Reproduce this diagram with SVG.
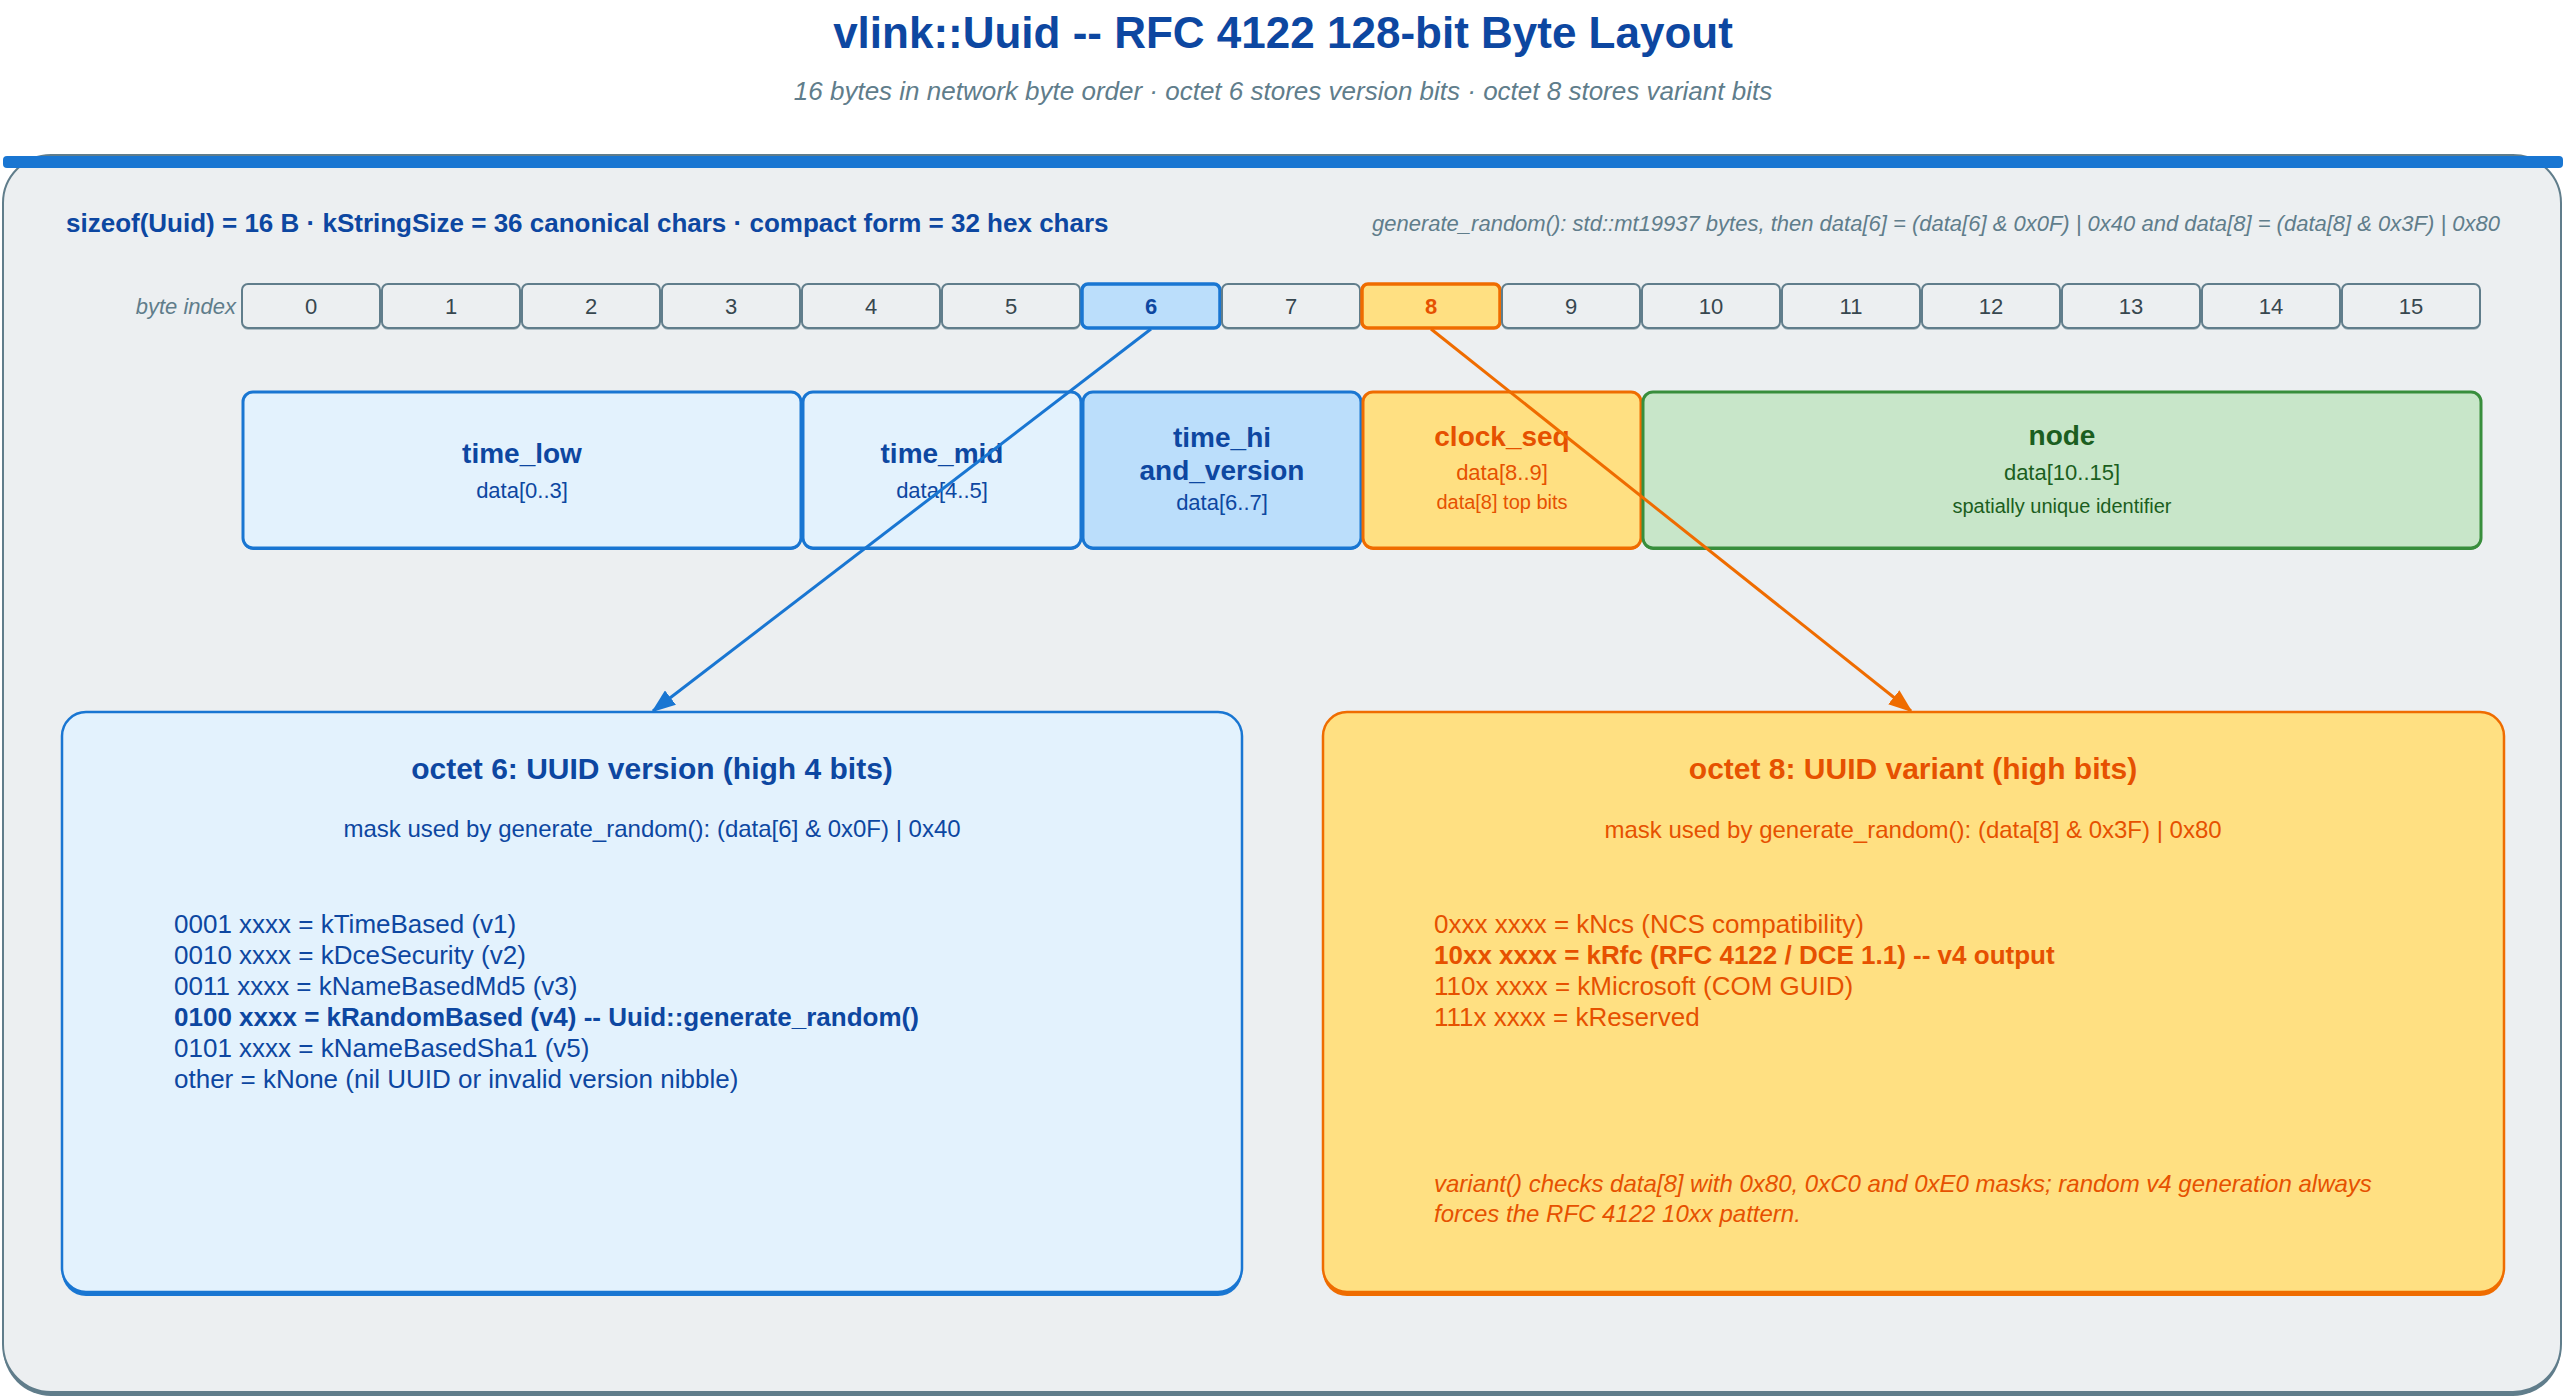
<svg xmlns="http://www.w3.org/2000/svg" width="2566" height="1400" viewBox="0 0 2566 1400">
<defs>
<style>
text{font-family:"Liberation Sans",Arial,Helvetica,sans-serif}
.title{font-size:44px;font-weight:bold;fill:#0d47a1;text-anchor:middle}
.sub{font-size:26px;font-style:italic;fill:#607d8b;text-anchor:middle}
.hdr{font-size:26px;font-weight:bold;fill:#0d47a1}
.note{font-size:22px;font-style:italic;fill:#607d8b;text-anchor:end}
.bidx{font-size:22px;font-style:italic;fill:#607d8b;text-anchor:end}
.byte rect.b{fill:#eceff1;stroke:#607d8b;stroke-width:2}
.byte rect.s{fill:#b0bec5}
.byte text{font-size:22px;fill:#37474f;text-anchor:middle}
.byte.v rect.b{fill:#bbdefb;stroke:#1976d2;stroke-width:3.5}
.byte.v text{fill:#0d47a1;font-weight:bold}
.byte.o rect.b{fill:#ffe082;stroke:#ef6c00;stroke-width:3.5}
.byte.o text{fill:#e65100;font-weight:bold}
.fld rect{stroke-width:3}
.fld text{text-anchor:middle}
.fld .n{font-size:28px;font-weight:bold}
.fld .d{font-size:22px}
.fld .m{font-size:20px}
.blue rect.b{fill:#e3f2fd;stroke:#1976d2}
.blue2 rect.b{fill:#bbdefb;stroke:#1976d2}
.blue text,.blue2 text{fill:#0d47a1}
.blue rect.s,.blue2 rect.s{fill:#1976d2}
.orng rect.b{fill:#ffe082;stroke:#ef6c00}
.orng text{fill:#e65100}
.orng rect.s{fill:#ef6c00}
.grn rect.b{fill:#c8e6c9;stroke:#388e3c}
.grn text{fill:#1b5e20}
.grn rect.s{fill:#388e3c}
.det rect.b{stroke-width:2.5}
.det .h{font-size:30px;font-weight:bold;text-anchor:middle}
.det .k{font-size:24px;text-anchor:middle}
.det .l{font-size:26px}
.det .bl{font-size:26px;font-weight:bold}
.det .it{font-size:24px;font-style:italic}
.conn line{stroke-width:3;fill:none}
</style>
<marker id="ab" markerWidth="24" markerHeight="18" refX="22" refY="9" orient="auto" markerUnits="userSpaceOnUse"><path d="M0,0 L24,9 L0,18 Z" fill="#1976d2"/></marker>
<marker id="ao" markerWidth="24" markerHeight="18" refX="22" refY="9" orient="auto" markerUnits="userSpaceOnUse"><path d="M0,0 L24,9 L0,18 Z" fill="#ef6c00"/></marker>
</defs>
<rect width="2566" height="1400" fill="#ffffff"/>
<text class="title" x="1283" y="48">vlink::Uuid -- RFC 4122 128-bit Byte Layout</text>
<text class="sub" x="1283" y="100">16 bytes in network byte order · octet 6 stores version bits · octet 8 stores variant bits</text>

<g id="container">
<rect x="3" y="159" width="2558" height="1237" rx="48" fill="#607d8b"/>
<rect x="3" y="155" width="2558" height="1237" rx="48" fill="#eceff1" stroke="#607d8b" stroke-width="2"/>
<rect x="3" y="156" width="2560" height="12" rx="4" fill="#1976d2"/>
<text class="hdr" x="66" y="232">sizeof(Uuid) = 16 B · kStringSize = 36 canonical chars · compact form = 32 hex chars</text>
<text class="note" x="2500" y="231">generate_random(): std::mt19937 bytes, then data[6] = (data[6] &amp; 0x0F) | 0x40 and data[8] = (data[8] &amp; 0x3F) | 0x80</text>
<text class="bidx" x="236" y="314">byte index</text>
</g>

<g id="byte0" class="byte"><rect class="s" x="242" y="286" width="138" height="44" rx="6"/><rect class="b" x="242" y="284" width="138" height="44" rx="6"/><text x="311" y="314">0</text></g>
<g id="byte1" class="byte"><rect class="s" x="382" y="286" width="138" height="44" rx="6"/><rect class="b" x="382" y="284" width="138" height="44" rx="6"/><text x="451" y="314">1</text></g>
<g id="byte2" class="byte"><rect class="s" x="522" y="286" width="138" height="44" rx="6"/><rect class="b" x="522" y="284" width="138" height="44" rx="6"/><text x="591" y="314">2</text></g>
<g id="byte3" class="byte"><rect class="s" x="662" y="286" width="138" height="44" rx="6"/><rect class="b" x="662" y="284" width="138" height="44" rx="6"/><text x="731" y="314">3</text></g>
<g id="byte4" class="byte"><rect class="s" x="802" y="286" width="138" height="44" rx="6"/><rect class="b" x="802" y="284" width="138" height="44" rx="6"/><text x="871" y="314">4</text></g>
<g id="byte5" class="byte"><rect class="s" x="942" y="286" width="138" height="44" rx="6"/><rect class="b" x="942" y="284" width="138" height="44" rx="6"/><text x="1011" y="314">5</text></g>
<g id="byte6" class="byte v"><rect class="b" x="1082" y="284" width="138" height="44" rx="6"/><text x="1151" y="314">6</text></g>
<g id="byte7" class="byte"><rect class="s" x="1222" y="286" width="138" height="44" rx="6"/><rect class="b" x="1222" y="284" width="138" height="44" rx="6"/><text x="1291" y="314">7</text></g>
<g id="byte8" class="byte o"><rect class="b" x="1362" y="284" width="138" height="44" rx="6"/><text x="1431" y="314">8</text></g>
<g id="byte9" class="byte"><rect class="s" x="1502" y="286" width="138" height="44" rx="6"/><rect class="b" x="1502" y="284" width="138" height="44" rx="6"/><text x="1571" y="314">9</text></g>
<g id="byte10" class="byte"><rect class="s" x="1642" y="286" width="138" height="44" rx="6"/><rect class="b" x="1642" y="284" width="138" height="44" rx="6"/><text x="1711" y="314">10</text></g>
<g id="byte11" class="byte"><rect class="s" x="1782" y="286" width="138" height="44" rx="6"/><rect class="b" x="1782" y="284" width="138" height="44" rx="6"/><text x="1851" y="314">11</text></g>
<g id="byte12" class="byte"><rect class="s" x="1922" y="286" width="138" height="44" rx="6"/><rect class="b" x="1922" y="284" width="138" height="44" rx="6"/><text x="1991" y="314">12</text></g>
<g id="byte13" class="byte"><rect class="s" x="2062" y="286" width="138" height="44" rx="6"/><rect class="b" x="2062" y="284" width="138" height="44" rx="6"/><text x="2131" y="314">13</text></g>
<g id="byte14" class="byte"><rect class="s" x="2202" y="286" width="138" height="44" rx="6"/><rect class="b" x="2202" y="284" width="138" height="44" rx="6"/><text x="2271" y="314">14</text></g>
<g id="byte15" class="byte"><rect class="s" x="2342" y="286" width="138" height="44" rx="6"/><rect class="b" x="2342" y="284" width="138" height="44" rx="6"/><text x="2411" y="314">15</text></g>

<g id="time_low" class="fld blue"><rect class="s" x="243" y="394" width="558" height="156" rx="10"/><rect class="b" x="243" y="392" width="558" height="156" rx="10"/><text class="n" x="522" y="463">time_low</text><text class="d" x="522" y="498">data[0..3]</text></g>
<g id="time_mid" class="fld blue"><rect class="s" x="803" y="394" width="278" height="156" rx="10"/><rect class="b" x="803" y="392" width="278" height="156" rx="10"/><text class="n" x="942" y="463">time_mid</text><text class="d" x="942" y="498">data[4..5]</text></g>
<g id="time_hi" class="fld blue2"><rect class="s" x="1083" y="394" width="278" height="156" rx="10"/><rect class="b" x="1083" y="392" width="278" height="156" rx="10"/><text class="n" x="1222" y="447">time_hi</text><text class="n" x="1222" y="480">and_version</text><text class="d" x="1222" y="510">data[6..7]</text></g>
<g id="clock_seq" class="fld orng"><rect class="s" x="1363" y="394" width="278" height="156" rx="10"/><rect class="b" x="1363" y="392" width="278" height="156" rx="10"/><text class="n" x="1502" y="446">clock_seq</text><text class="d" x="1502" y="480">data[8..9]</text><text class="m" x="1502" y="509">data[8] top bits</text></g>
<g id="node" class="fld grn"><rect class="s" x="1643" y="394" width="838" height="156" rx="10"/><rect class="b" x="1643" y="392" width="838" height="156" rx="10"/><text class="n" x="2062" y="445">node</text><text class="d" x="2062" y="480">data[10..15]</text><text class="m" x="2062" y="513">spatially unique identifier</text></g>

<g id="octet6" class="det blue">
<rect class="s" x="62" y="716" width="1180" height="580" rx="24"/>
<rect class="b" x="62" y="712" width="1180" height="580" rx="24"/>
<text class="h" x="652" y="779">octet 6: UUID version (high 4 bits)</text>
<text class="k" x="652" y="837">mask used by generate_random(): (data[6] &amp; 0x0F) | 0x40</text>
<text class="l" x="174" y="933">0001 xxxx = kTimeBased (v1)</text>
<text class="l" x="174" y="964">0010 xxxx = kDceSecurity (v2)</text>
<text class="l" x="174" y="995">0011 xxxx = kNameBasedMd5 (v3)</text>
<text class="bl" x="174" y="1026">0100 xxxx = kRandomBased (v4) -- Uuid::generate_random()</text>
<text class="l" x="174" y="1057">0101 xxxx = kNameBasedSha1 (v5)</text>
<text class="l" x="174" y="1088">other = kNone (nil UUID or invalid version nibble)</text>
</g>

<g id="octet8" class="det orng">
<rect class="s" x="1323" y="716" width="1181" height="580" rx="24"/>
<rect class="b" x="1323" y="712" width="1181" height="580" rx="24"/>
<text class="h" x="1913" y="779">octet 8: UUID variant (high bits)</text>
<text class="k" x="1913" y="838">mask used by generate_random(): (data[8] &amp; 0x3F) | 0x80</text>
<text class="l" x="1434" y="933">0xxx xxxx = kNcs (NCS compatibility)</text>
<text class="bl" x="1434" y="964">10xx xxxx = kRfc (RFC 4122 / DCE 1.1) -- v4 output</text>
<text class="l" x="1434" y="995">110x xxxx = kMicrosoft (COM GUID)</text>
<text class="l" x="1434" y="1026">111x xxxx = kReserved</text>
<text class="it" x="1434" y="1192">variant() checks data[8] with 0x80, 0xC0 and 0xE0 masks; random v4 generation always</text>
<text class="it" x="1434" y="1222">forces the RFC 4122 10xx pattern.</text>
</g>

<g id="connectors" class="conn">
<line x1="1151" y1="329" x2="653" y2="711" stroke="#1976d2" marker-end="url(#ab)"/>
<line x1="1431" y1="329" x2="1911" y2="711" stroke="#ef6c00" marker-end="url(#ao)"/>
</g>
</svg>
